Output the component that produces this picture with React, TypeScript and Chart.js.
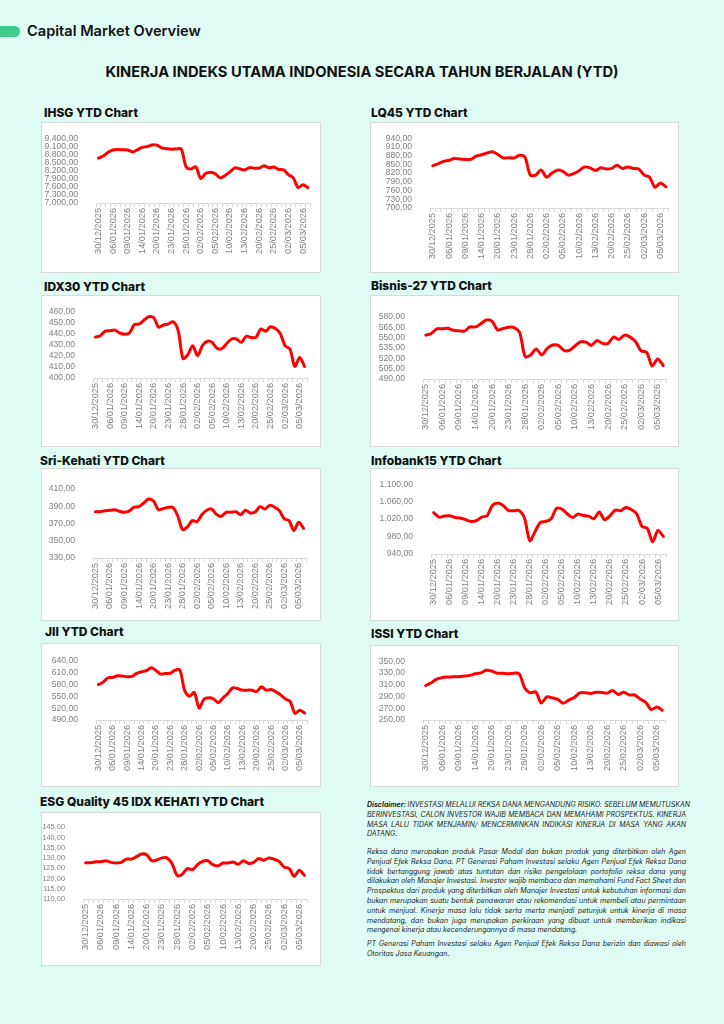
import React, { useEffect, useRef } from 'react';
import { Chart, registerables } from 'chart.js';

Chart.register(...registerables);

// ---------- DATA ----------
const DATES = [
  '30/12/2025', '02/01/2026', '05/01/2026', '06/01/2026', '07/01/2026', '08/01/2026',
  '09/01/2026', '12/01/2026', '13/01/2026', '14/01/2026', '15/01/2026', '19/01/2026',
  '20/01/2026', '21/01/2026', '22/01/2026', '23/01/2026', '26/01/2026', '27/01/2026',
  '28/01/2026', '29/01/2026', '30/01/2026', '02/02/2026', '03/02/2026', '04/02/2026',
  '05/02/2026', '06/02/2026', '09/02/2026', '10/02/2026', '11/02/2026', '12/02/2026',
  '13/02/2026', '18/02/2026', '19/02/2026', '20/02/2026', '23/02/2026', '24/02/2026',
  '25/02/2026', '26/02/2026', '27/02/2026', '02/03/2026', '03/03/2026', '04/03/2026',
  '05/03/2026', '06/03/2026',
];

const IHSG = [8660, 8740, 8880, 8960, 8980, 8970, 8960, 8890, 8970, 9060, 9090, 9150, 9140, 9040, 9010, 8990, 9000, 9000, 8340, 8260, 8340, 7910, 8090, 8140, 8080, 7930, 8020, 8150, 8300, 8270, 8220, 8310, 8290, 8290, 8380, 8300, 8330, 8240, 8230, 8050, 7930, 7570, 7680, 7570];
const LQ45 = [845, 852, 860, 864, 870, 868, 867, 867, 878, 883, 889, 893, 884, 872, 873, 872, 881, 875, 813, 813, 831, 806, 820, 830, 826, 813, 818, 828, 841, 838, 829, 838, 834, 836, 847, 836, 841, 836, 834, 813, 806, 771, 786, 773];
const IDX30 = [436.7, 438, 442, 442.4, 443, 440.4, 439.3, 440.4, 448, 448.5, 452, 455, 454, 445.6, 447.6, 448.5, 450.5, 442.7, 417.6, 421, 429, 420, 429, 433, 432, 426.6, 426.3, 431, 435, 435, 432, 437.5, 436.4, 436.4, 444, 442, 446, 444.4, 440, 429, 426, 410.4, 418.5, 410.4];
const BISNIS27 = [553.7, 556, 562.8, 563, 563.7, 560.8, 560, 559.4, 565.6, 565.6, 570.4, 575.7, 573.8, 561.3, 563.2, 565.2, 564.7, 557.5, 522.5, 525, 533.6, 525, 534.5, 539.3, 538.8, 531.6, 531.6, 537.9, 544, 543.6, 538.8, 546, 541.7, 541.7, 550.8, 547.4, 553.7, 550.8, 544, 530.7, 528.8, 509, 519.2, 509.6];
const SRI_KEHATI = [383.7, 383.7, 384.9, 385.3, 386, 384, 383, 384.5, 389, 389.5, 393.8, 398.4, 396, 386, 387.2, 388.7, 388.7, 379, 362.9, 366, 373.3, 372, 380.2, 385.3, 386.8, 380.6, 378.3, 383, 383, 383.7, 380.2, 385.3, 382.2, 383.3, 389.5, 386.8, 391, 389, 384.9, 375.6, 373.3, 362, 371.4, 364.4];
const INFOBANK15 = [1035, 1024.6, 1026.9, 1027.6, 1023.8, 1022.3, 1018.5, 1014.7, 1016.2, 1024.6, 1027.6, 1051.2, 1056.6, 1051.2, 1039.8, 1039, 1039.8, 1022.3, 970.5, 991.8, 1012.4, 1014.7, 1020.8, 1044.4, 1042.9, 1032.2, 1023.8, 1031.4, 1028.4, 1026.9, 1020.8, 1036, 1018.5, 1027.6, 1040.6, 1039, 1046.7, 1042.1, 1032.2, 1003.2, 998.7, 968.2, 994.1, 980.4];
const JII = [580.3, 586.3, 597.4, 598.2, 602.5, 601.6, 600, 600.8, 608.5, 612.7, 615.3, 623, 616.1, 606.8, 608.5, 608.5, 617, 617, 564.1, 550.5, 559.9, 520.7, 542.8, 546.3, 543.7, 534.3, 546.3, 557.3, 571.8, 570.1, 565.9, 565.9, 565.9, 562.4, 574.4, 565.9, 567.6, 561.6, 553.9, 543.7, 536.9, 507, 514.7, 507.9];
const ISSI = [308.6, 313.4, 319.4, 322, 323.1, 323.7, 323.7, 324.7, 325.8, 328.5, 330.1, 334.4, 333.3, 329.6, 329.6, 328.5, 329.6, 328.5, 304.3, 296.2, 297.8, 279, 289.2, 287.6, 284.9, 278.5, 283.9, 288.2, 296.2, 296.2, 295.2, 297.3, 296.8, 295.7, 300, 293.5, 297.3, 292.5, 292.5, 285.5, 280.1, 267.7, 272, 266.7];
const ESG_Q45 = [127.7, 127.7, 128.2, 128.2, 128.7, 127.9, 127.6, 127.9, 129.5, 129.5, 130.7, 132, 131.7, 128.7, 129.1, 130.1, 130.1, 127.3, 121.5, 122.1, 124.9, 124.3, 126.8, 128.4, 128.7, 126.8, 126.2, 127.6, 127.6, 128.1, 127, 128.7, 127.4, 127.9, 129.8, 129, 130.1, 129.5, 128.4, 125.7, 124.9, 121.1, 124.1, 121.6];

// Axis ranges: [min, max, step]
const RANGE_IHSG = [7000, 9400, 300];
const RANGE_LQ45 = [700, 940, 30];
const RANGE_IDX30 = [400, 460, 10];
const RANGE_BISNIS27 = [490, 580, 15];
const RANGE_SRI = [330, 410, 20];
const RANGE_INFOBANK = [940, 1100, 40];
const RANGE_JII = [490, 640, 30];
const RANGE_ISSI = [250, 350, 20];
const RANGE_ESG = [110, 145, 5];

// ---------- LAYOUT ----------
type Panel = {
  title: string;
  data: number[];
  range: number[];
  box: number[]; // L, T, R, B
  plot: number[]; // L, T, R, B
  titlePos: number[]; // x, centerY
  yFont: number;
};

const PANELS: Panel[] = [
  { title: 'IHSG YTD Chart', data: IHSG, range: RANGE_IHSG, box: [41, 122, 321, 273], plot: [96, 132, 313, 203], titlePos: [44, 113], yFont: 8.6 },
  { title: 'LQ45 YTD Chart', data: LQ45, range: RANGE_LQ45, box: [370, 122, 679, 273], plot: [430, 131, 669, 208], titlePos: [371, 113], yFont: 8.6 },
  { title: 'IDX30 YTD Chart', data: IDX30, range: RANGE_IDX30, box: [41, 295, 321, 447], plot: [93, 308, 307, 378], titlePos: [44, 287], yFont: 8.6 },
  { title: 'Bisnis-27 YTD Chart', data: BISNIS27, range: RANGE_BISNIS27, box: [370, 295, 679, 447], plot: [423, 317, 666, 379], titlePos: [371, 286], yFont: 8.6 },
  { title: 'Sri-Kehati YTD Chart', data: SRI_KEHATI, range: RANGE_SRI, box: [41, 468, 321, 621], plot: [93, 489, 306, 558], titlePos: [40, 461], yFont: 8.6 },
  { title: 'Infobank15 YTD Chart', data: INFOBANK15, range: RANGE_INFOBANK, box: [370, 468, 679, 621], plot: [431, 484, 666, 554], titlePos: [371, 461], yFont: 8.6 },
  { title: 'JII YTD Chart', data: JII, range: RANGE_JII, box: [41, 643, 321, 787], plot: [96, 661, 307, 720], titlePos: [45, 632], yFont: 8.6 },
  { title: 'ISSI YTD Chart', data: ISSI, range: RANGE_ISSI, box: [370, 645, 679, 787], plot: [423, 658, 665, 720], titlePos: [371, 634], yFont: 8.6 },
  { title: 'ESG Quality 45 IDX KEHATI YTD Chart', data: ESG_Q45, range: RANGE_ESG, box: [41, 812, 321, 966], plot: [83, 825, 307, 899], titlePos: [40, 802], yFont: 7.4 },
];

function fmt(v: number): string {
  const s = Math.round(v).toString().replace(/\B(?=(\d{3})+(?!\d))/g, '.');
  return s + ',00';
}

const TICK_FONT = "'Liberation Sans', Arial, sans-serif";

function ChartPanel({ p }: { p: Panel }) {
  const ref = useRef<HTMLCanvasElement>(null);
  const [bl, bt, br, bb] = p.box;
  const w = br - bl - 2;
  const h = bb - bt - 2;

  useEffect(() => {
    const [pl, pt, pr, pb] = p.plot;
    const yW = pl - bl - 1;
    const xH = bb - 1 - pb;
    const padTop = pt - bt - 1;
    const padRight = br - 1 - pr;
    const [mn, mx, st] = p.range;
    const chart = new Chart(ref.current as HTMLCanvasElement, {
      type: 'line',
      data: {
        labels: DATES,
        datasets: [
          {
            data: p.data,
            borderColor: '#ff0000',
            backgroundColor: '#ff0000',
            borderWidth: 3,
            pointRadius: 0,
            tension: 0.3,
            fill: false,
            borderCapStyle: 'round',
            borderJoinStyle: 'round',
          },
        ],
      },
      options: {
        responsive: false,
        maintainAspectRatio: false,
        animation: false,
        layout: { padding: { top: padTop, right: padRight, left: 0, bottom: 0 } },
        plugins: { legend: { display: false }, tooltip: { enabled: false }, title: { display: false } },
        scales: {
          x: {
            type: 'category',
            offset: true,
            grid: { display: true, drawOnChartArea: false, drawTicks: true, tickLength: 4, color: '#d9d9d9', offset: true },
            border: { display: true, color: '#d9d9d9' },
            ticks: {
              autoSkip: false,
              minRotation: 90,
              maxRotation: 90,
              padding: 1,
              color: '#808080',
              font: { family: TICK_FONT, size: 9.2 },
              callback: (_v: any, i: number) => (i % 3 === 0 ? DATES[i] : ''),
            },
            afterFit: (s: any) => {
              s.height = xH;
            },
          },
          y: {
            min: mn,
            max: mx,
            grid: { display: false },
            border: { display: false },
            ticks: {
              autoSkip: false,
              stepSize: st,
              padding: 10,
              color: '#808080',
              font: { family: TICK_FONT, size: p.yFont },
              callback: (v: any) => fmt(Number(v)),
            },
            afterFit: (s: any) => {
              s.width = yW;
            },
          },
        },
      },
    } as any);
    return () => chart.destroy();
  }, []);

  return (
    <>
      <div
        style={{
          position: 'absolute',
          left: p.titlePos[0],
          top: p.titlePos[1] - 8,
          height: 16,
          lineHeight: '16px',
          fontFamily: 'Inter, Roboto, sans-serif',
          fontWeight: 800,
          fontSize: 12,
          color: '#111',
          whiteSpace: 'nowrap',
        }}
      >
        {p.title}
      </div>
      <div
        style={{
          position: 'absolute',
          left: bl,
          top: bt,
          width: w,
          height: h,
          border: '1px solid #d9d9d9',
          background: '#ffffff',
        }}
      >
        <canvas ref={ref} width={w} height={h} style={{ display: 'block', width: w, height: h }} />
      </div>
    </>
  );
}

// Disclaimer text, as laid out line by line in the original.
const DISC_P1 = [
  'INVESTASI MELALUI REKSA DANA MENGANDUNG RISIKO. SEBELUM MEMUTUSKAN',
  'BERINVESTASI, CALON INVESTOR WAJIB MEMBACA DAN MEMAHAMI PROSPEKTUS. KINERJA',
  'MASA LALU TIDAK MENJAMIN/ MENCERMINKAN INDIKASI KINERJA DI MASA YANG AKAN',
  'DATANG.',
];
const DISC_P2 = [
  'Reksa dana merupakan produk Pasar Modal dan bukan produk yang diterbitkan oleh Agen',
  'Penjual Efek Reksa Dana. PT Generasi Paham Investasi selaku Agen Penjual Efek Reksa Dana',
  'tidak bertanggung jawab atas tuntutan dan risiko pengelolaan portofolio reksa dana yang',
  'dilakukan oleh Manajer Investasi. Investor wajib membaca dan memahami Fund Fact Sheet dan',
  'Prospektus dari produk yang diterbitkan oleh Manajer Investasi untuk kebutuhan informasi dan',
  'bukan merupakan suatu bentuk penawaran atau rekomendasi untuk membeli atau permintaan',
  'untuk menjual. Kinerja masa lalu tidak serta merta menjadi petunjuk untuk kinerja di masa',
  'mendatang, dan bukan juga merupakan perkiraan yang dibuat untuk memberikan indikasi',
  'mengenai kinerja atau kecenderungannya di masa mendatang.',
];
const DISC_P3 = [
  'PT Generasi Paham Investasi selaku Agen Penjual Efek Reksa Dana berizin dan diawasi oleh',
  'Otoritas Jasa Keuangan.',
];

function Para({ lines, top, lead }: { lines: string[]; top: number; lead?: string }) {
  return (
    <div
      style={{
        position: 'absolute',
        left: 367,
        top,
        width: 319,
        fontFamily: 'Inter, Roboto, sans-serif',
        fontStyle: 'italic',
        fontSize: 7,
        lineHeight: '9.8px',
        color: '#222',
      }}
    >
      {lines.map((ln, i) => {
        const last = i === lines.length - 1;
        return (
          <div
            key={i}
            style={{
              whiteSpace: 'nowrap',
              textAlign: last ? 'left' : 'justify',
              textAlignLast: last ? 'left' : 'justify',
              overflow: 'visible',
            }}
          >
            {i === 0 && lead ? <b>{lead} </b> : null}
            {ln}
          </div>
        );
      })}
    </div>
  );
}

export default function App() {
  return (
    <div
      style={{
        position: 'absolute',
        left: 0,
        top: 0,
        width: 724,
        height: 1024,
        background: '#defcf4',
        overflow: 'hidden',
      }}
    >
      <div
        style={{
          position: 'absolute',
          left: -10,
          top: 26,
          width: 30,
          height: 11,
          borderRadius: 6,
          background: '#3ecb8c',
        }}
      />
      <div
        style={{
          position: 'absolute',
          left: 27,
          top: 22,
          height: 18,
          lineHeight: '18px',
          fontFamily: 'Inter, Roboto, sans-serif',
          fontWeight: 600,
          fontSize: 14.6,
          color: '#111',
          whiteSpace: 'nowrap',
        }}
      >
        Capital Market Overview
      </div>
      <div
        style={{
          position: 'absolute',
          left: 0,
          width: 724,
          top: 63,
          height: 18,
          lineHeight: '18px',
          textAlign: 'center',
          fontFamily: 'Inter, Roboto, sans-serif',
          fontWeight: 700,
          fontSize: 14.7,
          color: '#111',
          whiteSpace: 'nowrap',
        }}
      >
        KINERJA INDEKS UTAMA INDONESIA SECARA TAHUN BERJALAN (YTD)
      </div>

      {PANELS.map((p) => (
        <ChartPanel key={p.title} p={p} />
      ))}

      <Para lines={DISC_P1} top={800} lead="Disclaimer:" />
      <Para lines={DISC_P2} top={847} />
      <Para lines={DISC_P3} top={939} />
    </div>
  );
}
